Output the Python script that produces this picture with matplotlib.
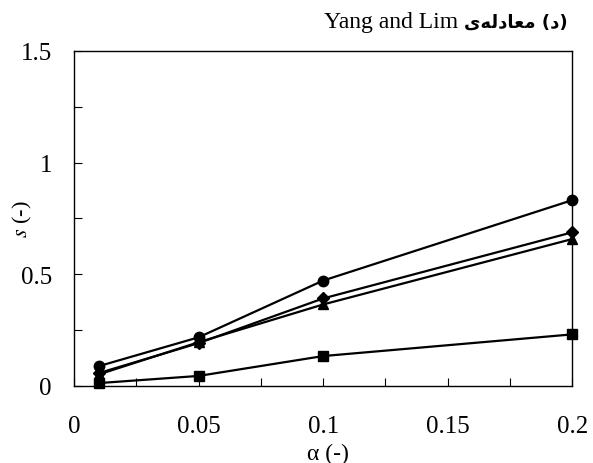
import matplotlib.pyplot as plt
from matplotlib.ticker import MultipleLocator

alpha = [0.01, 0.05, 0.1, 0.2]
s_circle = [0.089, 0.218, 0.472, 0.832]
s_diamond = [0.058, 0.192, 0.392, 0.688]
s_triangle = [0.052, 0.196, 0.365, 0.658]
s_square = [0.013, 0.045, 0.134, 0.231]

x_ticks = [0, 0.05, 0.1, 0.15, 0.2]
x_ticklabels = ['0', '0.05', '0.1', '0.15', '0.2']
y_ticks = [0, 0.5, 1, 1.5]
y_ticklabels = ['0', '0.5', '1', '1.5']

# Persian text shaped by hand (presentation forms, visual order)
fa_part = '\uFBFC\uFEEA\uFEDF\uFEA9\uFE8E\uFECC\uFEE3 (\uFEA9)'
en_part = 'Yang and Lim '

plt.rcParams['font.family'] = ['Liberation Serif', 'DejaVu Sans']
plt.rcParams['mathtext.fontset'] = 'stix'

fig = plt.figure(figsize=(5.93, 4.64), dpi=100)
ax = fig.add_axes([0.125, 0.166, 0.84, 0.722])

series = [(s_circle, 'o', 7.5), (s_diamond, 'D', 6.5), (s_triangle, '^', 7.5), (s_square, 's', 7)]
for ys, m, ms in series:
    ax.plot(alpha, ys, color='black', marker=m, markersize=ms, linewidth=1.6, clip_on=False)

ax.set_xlim(0, 0.2)
ax.set_ylim(0, 1.5)
ax.set_xticks(x_ticks)
ax.set_xticklabels(x_ticklabels)
ax.set_yticks(y_ticks)
ax.set_yticklabels(y_ticklabels)
ax.xaxis.set_minor_locator(MultipleLocator(0.025))
ax.yaxis.set_minor_locator(MultipleLocator(0.25))
ax.tick_params(which='both', direction='in', labelsize=18, width=0.8, length=6)
ax.tick_params(axis='x', which='major', pad=21)
ax.tick_params(axis='y', which='major', pad=16)
for sp in ax.spines.values():
    sp.set_linewidth(1.0)

ax.set_xlabel('α (-)', fontsize=17)
ax.xaxis.set_label_coords(0.51, -0.2)
ax.xaxis.label.set_va('center')
ax.set_ylabel('$s$ (-)', fontsize=16)
ax.yaxis.set_label_coords(-0.104, 0.5)
ax.yaxis.label.set_va('center')

t_fa = fig.text(0.958, 0.952, fa_part, fontsize=13, fontweight='bold',
                family='DejaVu Sans', ha='right', va='center')
ax.annotate(en_part, xy=(0, 0.5), xycoords=t_fa, ha='right', va='center',
            fontsize=17, annotation_clip=False)

fig.savefig('out.png', dpi=100, facecolor='white')
